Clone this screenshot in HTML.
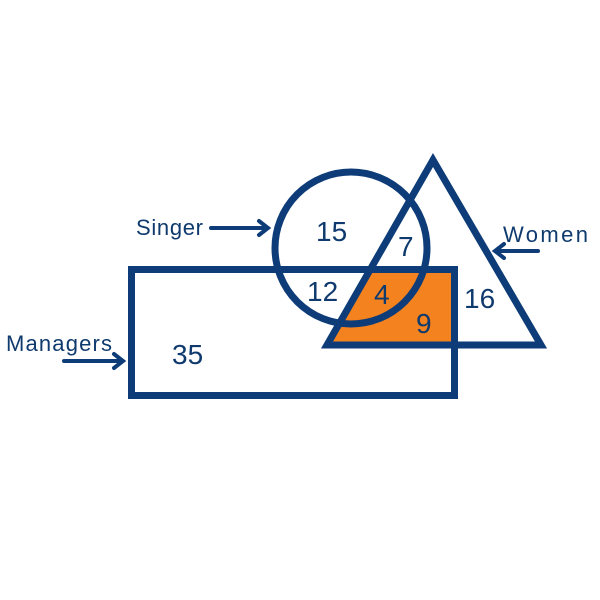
<!DOCTYPE html>
<html><head><meta charset="utf-8"><style>
html,body{margin:0;padding:0;background:#fff;}
svg{display:block;}
text{font-family:"Liberation Sans",sans-serif;fill:#0f3a6e;}
.lb{font-size:22px;letter-spacing:1px;font-weight:normal;}
</style></head><body>
<svg width="600" height="600" viewBox="0 0 600 600" xmlns="http://www.w3.org/2000/svg">
<defs>
<clipPath id="rc"><rect x="131.5" y="269.5" width="323" height="126"/></clipPath>
</defs>
<polygon points="433,162 328,345 540,345" fill="#f4821f" clip-path="url(#rc)"/>
<g fill="none" stroke="#0d3c78" stroke-width="7">
<rect x="131.5" y="269.5" width="323" height="126"/>
<circle cx="351" cy="248" r="76"/>
<polygon points="433,160 327,345 541,345" stroke-linejoin="miter"/>
</g>
<g stroke="#0d3c78" stroke-width="4" fill="none" stroke-linecap="round">
<line x1="211" y1="228" x2="266" y2="228"/>
<polyline points="259,221 268,228 259,235"/>
<line x1="538" y1="251" x2="497" y2="251"/>
<polyline points="504,244 495,251 504,258"/>
<line x1="64" y1="361" x2="121" y2="361"/>
<polyline points="114,354 123,361 114,368"/>
</g>
<text class="lb" x="136" y="235" textLength="68">Singer</text>
<text class="lb" x="503" y="242" textLength="86">Women</text>
<text class="lb" x="6" y="351" textLength="107">Managers</text>
<g font-size="28">
<text x="316" y="241">15</text>
<text x="398" y="256">7</text>
<text x="307" y="301">12</text>
<text x="374" y="304">4</text>
<text x="416" y="333">9</text>
<text x="464" y="308">16</text>
<text x="172" y="364">35</text>
</g>
</svg>
</body></html>
